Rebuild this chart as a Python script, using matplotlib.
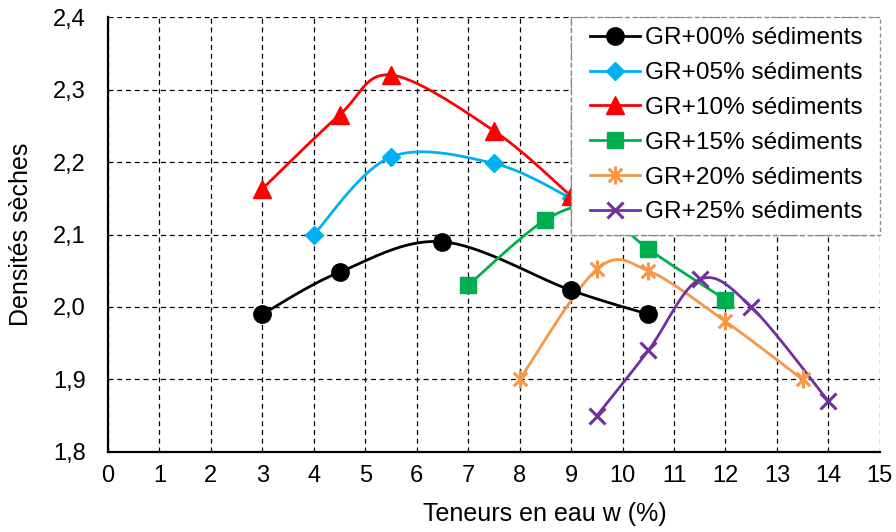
import numpy as np
import matplotlib
matplotlib.use("Agg")
import matplotlib.pyplot as plt
from matplotlib.path import Path
from matplotlib.patches import Rectangle
from matplotlib.ticker import MultipleLocator, FuncFormatter

# Water content (%) and dry density for each mix
w_00 = [3, 4.5, 6.5, 9, 10.5]
d_00 = [1.99, 2.048, 2.09, 2.023, 1.99]

w_05 = [4, 5.5, 7.5, 9]
d_05 = [2.10, 2.207, 2.198, 2.15]

w_10 = [3, 4.5, 5.5, 7.5, 9]
d_10 = [2.163, 2.265, 2.32, 2.243, 2.153]

w_15 = [7, 8.5, 9.5, 10.5, 12]
d_15 = [2.03, 2.12, 2.136, 2.08, 2.01]

w_20 = [8, 9.5, 10.5, 12, 13.5]
d_20 = [1.90, 2.052, 2.05, 1.98, 1.90]

w_25 = [9.5, 10.5, 11.5, 12.5, 14]
d_25 = [1.85, 1.94, 2.038, 2.00, 1.87]

labels = ["GR+00% sédiments", "GR+05% sédiments", "GR+10% sédiments",
          "GR+15% sédiments", "GR+20% sédiments", "GR+25% sédiments"]

plt.rcParams["font.family"] = ["Liberation Sans", "DejaVu Sans"]


def smooth(x, y, n=30):
    """Bezier-smoothed path through the points (Catmull-Rom tangents)."""
    x = np.asarray(x, float)
    y = np.asarray(y, float)
    px = np.concatenate([[x[0]], x, [x[-1]]])
    py = np.concatenate([[y[0]], y, [y[-1]]])
    xs, ys = [], []
    t = np.linspace(0, 1, n)
    for i in range(1, len(px) - 2):
        p0 = np.array([px[i], py[i]])
        p3 = np.array([px[i + 1], py[i + 1]])
        p1 = p0 + (np.array([px[i + 1], py[i + 1]]) - np.array([px[i - 1], py[i - 1]])) / 6
        p2 = p3 - (np.array([px[i + 2], py[i + 2]]) - np.array([px[i], py[i]])) / 6
        b = ((1 - t) ** 3)[:, None] * p0 + (3 * (1 - t) ** 2 * t)[:, None] * p1 \
            + (3 * (1 - t) * t ** 2)[:, None] * p2 + (t ** 3)[:, None] * p3
        xs.extend(b[:, 0])
        ys.extend(b[:, 1])
    return xs, ys


# star marker: vertical bar crossed by an X
star = Path([(0, -1), (0, 1), (-0.75, -0.75), (0.75, 0.75), (-0.75, 0.75), (0.75, -0.75)],
            [Path.MOVETO, Path.LINETO, Path.MOVETO, Path.LINETO, Path.MOVETO, Path.LINETO])

fig = plt.figure(figsize=(8.96, 5.32), dpi=100)
ax = fig.add_axes([0.1205, 0.1504, 0.8615, 0.8176])

series = [
    (w_00, d_00, "#000000", "o", 12.5, True),
    (w_05, d_05, "#00B0F0", "D", 9, True),
    (w_10, d_10, "#FF0000", "^", 13, True),
    (w_15, d_15, "#00B050", "s", 11.5, True),
    (w_20, d_20, "#F79646", star, 13, False),
    (w_25, d_25, "#7030A0", "x", 11, False),
]

handles = []
for (xv, yv, col, mk, ms, filled), lab in zip(series, labels):
    sx, sy = smooth(xv, yv)
    ax.plot(sx, sy, color=col, lw=2.0, zorder=3)
    style = dict(marker=mk, ms=ms, mec=col, mfc=col if filled else "none",
                 mew=1 if filled else 2.2)
    ax.plot(xv, yv, ls="none", zorder=4, **style)
    h, = ax.plot([], [], color=col, lw=2.0, **style)
    handles.append(h)

ax.set_xlim(0, 15)
ax.set_ylim(1.8, 2.4)
ax.xaxis.set_major_locator(MultipleLocator(1))
ax.yaxis.set_major_locator(MultipleLocator(0.1))
ax.yaxis.set_major_formatter(FuncFormatter(lambda v, p: f"{v:.1f}".replace(".", ",")))

ax.grid(True, color="black", ls=(0, (4, 3)), lw=0.9, zorder=0)
ax.set_axisbelow(True)
for s in ("top", "right"):
    ax.spines[s].set_visible(False)
for s in ("left", "bottom"):
    ax.spines[s].set_linewidth(1.6)
    ax.spines[s].set_zorder(5)
ax.tick_params(axis="both", length=0, labelsize=17)
ax.tick_params(axis="x", pad=9.5)
ax.tick_params(axis="y", pad=16)

ax.set_xlabel("Teneurs en eau w (%)", fontsize=18)
ax.set_ylabel("Densités sèches", fontsize=18)
ax.xaxis.set_label_coords(0.566, -0.115)
ax.yaxis.set_label_coords(-0.097, 0.5)

# legend panel: white box with grey dashed border in the upper-right grid cells
ax.add_patch(Rectangle((9, 2.1), 6, 0.3, facecolor="white", edgecolor="#8c8c8c",
                       ls=(0, (3, 2)), lw=1.0, zorder=5, clip_on=False))
leg = ax.legend(handles, labels, loc="center left", bbox_to_anchor=(9.36, 2.2506),
                bbox_transform=ax.transData, frameon=False,
                fontsize=17.6, handlelength=2.05, handletextpad=0.2,
                labelspacing=0.52, borderpad=0, borderaxespad=0)
leg.set_zorder(6)

fig.savefig("out.png", dpi=100)
